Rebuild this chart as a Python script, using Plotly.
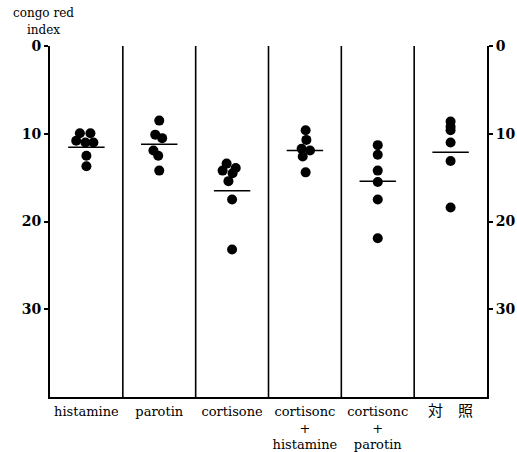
import plotly.graph_objects as go

# ---- data ----
categories = ["histamine", "parotin", "cortisone",
              "cortisonc<br>+<br>histamine", "cortisonc<br>+<br>parotin",
              "<span style='font-size:15px'>対　照</span>"]

histamine = [9.95, 9.95, 10.8, 11.0, 11.0, 12.5, 13.7]
histamine_dx = [-0.09, 0.055, -0.14, -0.014, 0.096, 0.0, 0.0]

parotin = [8.5, 10.1, 10.5, 11.9, 12.5, 14.2]
parotin_dx = [0.0, -0.055, 0.04, -0.08, -0.014, 0.0]

cortisone = [13.4, 13.9, 14.2, 14.5, 15.4, 17.5, 23.2]
cortisone_dx = [-0.075, 0.05, -0.13, 0.007, -0.05, 0.0, 0.0]

cort_hist = [9.6, 10.7, 11.7, 11.9, 12.6, 14.4]
cort_hist_dx = [0.01, 0.02, -0.045, 0.07, -0.03, 0.01]

cort_par = [11.3, 12.4, 14.2, 15.5, 17.5, 21.9]
cort_par_dx = [0.0, 0.0, 0.0, 0.0, 0.0, 0.0]

control = [8.6, 9.2, 9.6, 11.0, 13.1, 18.4]
control_dx = [0.0, 0.0, 0.0, 0.0, 0.0, 0.0]

means = [11.55, 11.2, 16.5, 11.9, 15.4, 12.1]

y_ticks = [0, 10, 20, 30]
y_range = [40, 0]

groups = [histamine, parotin, cortisone, cort_hist, cort_par, control]
offsets = [histamine_dx, parotin_dx, cortisone_dx, cort_hist_dx, cort_par_dx, control_dx]

fig = go.Figure()

serif = "DejaVu Serif, Noto Sans CJK JP"

for i, (vals, dxs) in enumerate(zip(groups, offsets)):
    fig.add_trace(go.Scatter(
        x=[i + d for d in dxs], y=vals, mode="markers",
        marker=dict(color="black", size=10, line=dict(width=0)),
        showlegend=False, hoverinfo="y"))
    fig.add_trace(go.Scatter(
        x=[i - 0.25, i + 0.25], y=[means[i], means[i]], mode="lines",
        line=dict(color="black", width=1.5), showlegend=False, hoverinfo="skip"))

# invisible trace to activate right axis
fig.add_trace(go.Scatter(x=[0], y=[0], yaxis="y2", mode="markers",
                         marker=dict(opacity=0), showlegend=False, hoverinfo="skip"))

n = len(categories)
for i in range(n - 1):
    fig.add_shape(type="line", xref="x", yref="y", x0=i + 0.5, x1=i + 0.5,
                  y0=y_range[1], y1=y_range[0], line=dict(color="black", width=1.6))

num_font = dict(family="DejaVu Serif", size=14, color="black", weight="bold")

fig.update_layout(
    width=517, height=452,
    margin=dict(l=50, r=30, t=46, b=55),
    plot_bgcolor="white", paper_bgcolor="white",
    xaxis=dict(range=[-0.5, n - 0.5], tickvals=list(range(n)), ticktext=categories,
               showgrid=False, zeroline=False, showline=True, linecolor="black",
               linewidth=2, ticks="", automargin=False, ticklabelstandoff=1,
               tickfont=dict(family=serif, size=13, color="black")),
    yaxis=dict(range=y_range, tickvals=y_ticks, showgrid=False, zeroline=False,
               showline=True, linecolor="black", linewidth=2, ticks="outside",
               ticklen=4, tickwidth=1.5, tickcolor="black", automargin=False,
               tickfont=num_font),
    yaxis2=dict(range=y_range, tickvals=y_ticks, overlaying="y", side="right",
                showgrid=False, zeroline=False, showline=True, linecolor="black",
                linewidth=2, ticks="outside", ticklen=4, tickwidth=1.5, tickcolor="black",
                automargin=False, tickfont=num_font),
    annotations=[
        dict(text="congo red", xref="paper", yref="paper", x=-0.014, y=1.094,
             xanchor="center", yanchor="middle", showarrow=False,
             font=dict(family="DejaVu Serif", size=12, color="black")),
        dict(text="index", xref="paper", yref="paper", x=-0.014, y=1.046,
             xanchor="center", yanchor="middle", showarrow=False,
             font=dict(family="DejaVu Serif", size=12, color="black")),
    ],
)

fig.write_html("out.html")
